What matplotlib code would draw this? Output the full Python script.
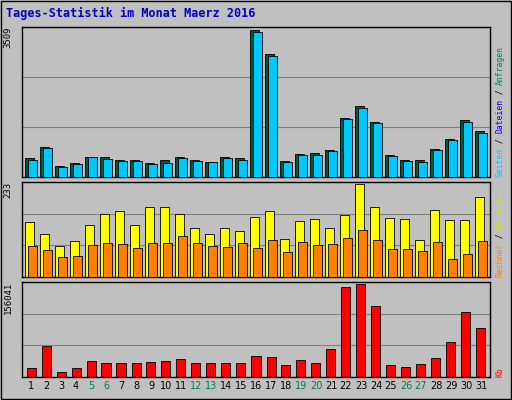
import matplotlib
matplotlib.use("Agg")
import matplotlib.pyplot as plt
import numpy as np

days = list(range(1, 32))
weekend = [5, 6, 12, 13, 19, 20, 26, 27]
hits = [454, 716, 263, 334, 477, 477, 406, 406, 334, 406, 477, 406, 358, 477, 454, 3509, 2936, 382, 549, 573, 645, 1409, 1695, 1313, 525, 406, 406, 668, 907, 1361, 1098]
files = [406, 692, 239, 310, 477, 430, 382, 382, 310, 334, 454, 382, 358, 454, 406, 3461, 2888, 358, 525, 525, 621, 1385, 1647, 1289, 501, 382, 358, 645, 883, 1313, 1050]
visits = [138, 108, 78, 90, 130, 158, 165, 130, 175, 175, 158, 123, 108, 123, 115, 150, 165, 95, 140, 145, 123, 155, 233, 175, 148, 145, 93, 168, 143, 143, 200]
sites = [78, 68, 50, 53, 80, 85, 83, 73, 85, 85, 103, 85, 78, 75, 85, 73, 93, 63, 88, 80, 83, 98, 118, 93, 70, 70, 65, 88, 45, 58, 90]
kb = [15266, 52575, 8482, 15266, 27141, 23749, 23749, 23749, 25445, 27141, 30533, 23749, 23749, 23749, 23749, 35622, 33926, 20357, 28837, 23749, 47487, 151000, 156041, 118725, 20357, 16962, 22053, 32230, 59359, 108546, 81410]

BG = "#C0C0C0"
fig = plt.figure(figsize=(5.12, 4.0), dpi=100, facecolor=BG)
W, H = 512, 400
def ax_at(x0, y0, x1, y1):
    return fig.add_axes([x0 / W, 1 - y1 / H, (x1 - x0) / W, (y1 - y0) / H])

fig.patches.append(plt.Rectangle((0.002, 0.002), 0.996, 0.996, transform=fig.transFigure,
                                 fill=False, ec="black", lw=1))
fig.text(6 / W, 1 - 13 / H, "Tages-Statistik im Monat Maerz 2016", color="#0000C0",
         fontsize=8.5, fontweight="bold", family="DejaVu Sans Mono", va="center")

x = np.array(days)
def style(ax, ymax, label):
    ax.set_facecolor(BG)
    ax.set_xlim(0.4, 31.6)
    ax.set_ylim(0, ymax * 1.02)
    ax.set_xticks([])
    ax.set_yticks([])
    for s in ax.spines.values():
        s.set_color("black"); s.set_linewidth(1)
    ax.text(-0.03, 1.0, label, transform=ax.transAxes, rotation=90, ha="center", va="top",
            fontsize=6.5, family="DejaVu Sans Mono")

ax1 = ax_at(22, 27, 490, 177)
style(ax1, 3509, "3509")
for f in (1/3, 2/3):
    ax1.axhline(3509 * 1.02 * f, color="#808080", lw=0.8, zorder=0)
ax1.bar(x - 0.1, hits, width=0.55, color="#005A40", edgecolor="black", lw=0.6, zorder=2)
ax1.bar(x + 0.1, files, width=0.55, color="#00C8FF", edgecolor="black", lw=0.6, zorder=3)

ax2 = ax_at(22, 182, 490, 277)
style(ax2, 233, "233")
for f in (1/3, 2/3):
    ax2.axhline(233 * 1.02 * f, color="#808080", lw=0.8, zorder=0)
ax2.bar(x - 0.1, visits, width=0.55, color="#FFFF00", edgecolor="black", lw=0.6, zorder=2)
ax2.bar(x + 0.1, sites, width=0.55, color="#FF8000", edgecolor="black", lw=0.6, zorder=3)

ax3 = ax_at(22, 282, 490, 377)
style(ax3, 156041, "156041")
for f in (1/3, 2/3):
    ax3.axhline(156041 * 1.02 * f, color="#808080", lw=0.8, zorder=0)
ax3.bar(x, kb, width=0.6, color="#FF0000", edgecolor="black", lw=0.6, zorder=2)
for d in days:
    ax3.text(d, -0.09, str(d), transform=ax3.get_xaxis_transform(), ha="center", va="center",
             fontsize=7, color="#008040" if d in weekend else "black")

FS = 5.8
STEP = FS * 100 / 72 * 0.602
def vlegend(parts, xpix, ybottom):
    y = ybottom
    for txt, col in parts:
        fig.text(xpix / W, 1 - y / H, txt, rotation=90, color=col, fontsize=FS,
                 family="DejaVu Sans Mono", ha="center", va="bottom")
        y -= len(txt) * STEP
vlegend([("Seiten", "#00C8FF"), (" / ", "black"), ("Dateien", "#0000FF"), (" / ", "black"), ("Anfragen", "#008040")], 500, 177)
vlegend([("Rechner", "#FF8000"), (" / ", "black"), ("Besuche", "#E0E000")], 500, 277)
vlegend([("Kb", "#FF0000")], 500, 377)

fig.savefig("out.png", dpi=100, facecolor=BG)
